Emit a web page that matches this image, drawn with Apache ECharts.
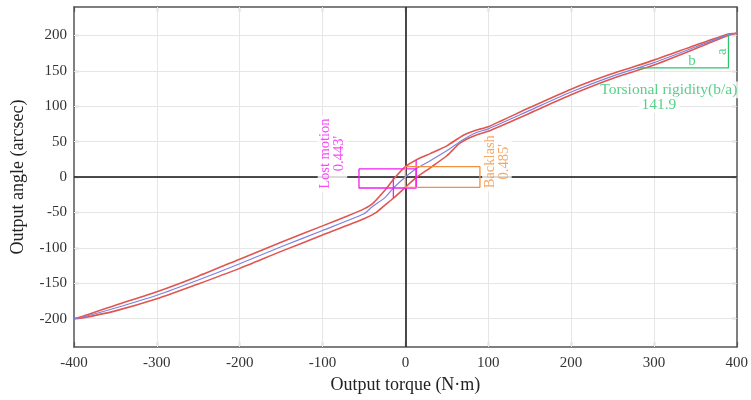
<!DOCTYPE html>
<html>
<head>
<meta charset="utf-8">
<script src="https://cdn.jsdelivr.net/npm/echarts@6/dist/echarts.min.js"></script>
<style>
  html, body { margin: 0; padding: 0; background: #fff; }
  #chart { width: 751px; height: 400px; }
</style>
</head>
<body>
<div id="chart"></div>
<script>
// Tick values
var xTicks = [-400, -300, -200, -100, 0, 100, 200, 300, 400];
var yTicks = [-200, -150, -100, -50, 0, 50, 100, 150, 200];

// Upper branch of the hysteresis loop (unloading)
var upperX = [-400, -390, -350, -300, -250, -200, -150, -100, -70, -50, -40, -25, -13, 0, 13, 30, 50, 70, 85, 100, 150, 200, 250, 300, 350, 390, 400];
var upperY = [-200, -197, -181, -162, -140, -116, -92, -69, -55, -45, -38, -19, -1.5, 14.5, 24, 33, 44, 59, 66, 71, 98, 124, 146, 165, 186, 202, 203];

// Lower branch of the hysteresis loop (loading)
var lowerX = [-400, -390, -350, -300, -250, -200, -150, -100, -50, -35, -25, -14.5, 0, 13, 30, 50, 65, 75, 85, 100, 150, 200, 250, 300, 350, 390, 400];
var lowerY = [-200, -199, -189, -172, -151, -129, -105, -82, -59, -50, -40, -30, -14.5, -1, 13, 30, 47, 54, 59, 64.5, 90, 116, 139, 158, 181, 200, 203];

// Mid-line between the two branches
var midX = [-400, -390, -350, -300, -250, -200, -150, -100, -50, -40, -25, -14.5, 0, 13, 30, 50, 70, 85, 100, 150, 200, 250, 300, 350, 390, 400];
var midY = [-200, -198, -185, -167, -145.5, -122.5, -98.5, -75.5, -52, -42, -29.5, -15.75, 0, 11.5, 23, 37, 53, 62.5, 68, 94, 120, 142.5, 161.5, 183.5, 201, 203];

// Lost motion marks (0.443' = 26.6 arcsec)
var lostBoxX = [-56, 13, 13, -56, -56];
var lostBoxY = [11.5, 11.5, -15.5, -15.5, 11.5];
var lostRightX = [13, 13];
var lostRightY = [24, -15.5];
var lostLeftX = [-14.5, -14.5];
var lostLeftY = [-1.5, -30];

// Backlash box (0.485' = 29.1 arcsec)
var backBoxX = [0, 90, 90, 0, 0];
var backBoxY = [14.55, 14.55, -14.55, -14.55, 14.55];

// Rigidity triangle legs
var rigidX = [280, 390, 390];
var rigidY = [154, 154, 201];

function pairs(xs, ys) {
  return xs.map(function (x, i) { return [x, ys[i]]; });
}

var serif = 'Liberation Serif';
var axisColor = '#555';
var red = '#e0564e';
var blue = '#7c82e2';
var magenta = '#f020f0';
var orange = '#f39140';
var green = '#2fc46c';

var chart = echarts.init(document.getElementById('chart'), null, { renderer: 'canvas' });

function lineSeries(data, color, width, z, smooth) {
  return {
    type: 'line',
    data: data,
    showSymbol: false,
    symbol: 'none',
    smooth: smooth || false,
    silent: true,
    z: z,
    lineStyle: { color: color, width: width },
    animation: false
  };
}

var gridLines = {
  type: 'line',
  data: [],
  silent: true,
  z: 1,
  markLine: {
    z: 1,
    silent: true,
    symbol: 'none',
    label: { show: false },
    animation: false,
    lineStyle: { color: '#e6e6e6', width: 1, type: 'solid' },
    data: xTicks.filter(function (v) { return v > -400 && v < 400; }).map(function (v) { return { xAxis: v }; })
      .concat(yTicks.map(function (v) { return { yAxis: v }; }))
  }
};

var zeroLines = {
  type: 'line',
  data: [],
  silent: true,
  z: 2,
  markLine: {
    z: 2,
    silent: true,
    symbol: 'none',
    label: { show: false },
    animation: false,
    lineStyle: { color: '#111', width: 1.5, type: 'solid' },
    data: [{ xAxis: 0 }, { yAxis: 0 }]
  }
};

function note(x, y, text, color, rotate, size, boxed) {
  return {
    value: [x, y],
    label: {
      show: true,
      position: 'inside',
      formatter: text,
      color: color,
      rotate: rotate,
      fontFamily: serif,
      fontSize: size,
      lineHeight: size * 0.95,
      align: 'center',
      verticalAlign: 'middle',
      backgroundColor: boxed ? '#fff' : 'transparent',
      padding: boxed ? [1, 3] : 0
    }
  };
}

// Text annotations sit above the grid and zero lines but under the curves
var notes = {
  type: 'scatter',
  symbolSize: 0,
  silent: true,
  z: 3,
  animation: false,
  data: [
    note(-88, 33, 'Lost motion\n0.443\'', magenta, 90, 14.5, true),
    note(110.5, 21.5, 'Backlash\n0.485\'', orange, 90, 14.5, true),
    note(318, 123, 'Torsional rigidity(b/a)', green, 0, 15.5, true),
    note(306, 102, '141.9', green, 0, 15.5, true),
    note(346, 163, 'b', green, 0, 15, false),
    note(382, 177, 'a', green, 90, 15, false)
  ]
};

var option = {
  backgroundColor: '#fff',
  animation: false,
  grid: { left: 74, right: 13, top: 7, bottom: 53 },
  xAxis: [{
    type: 'value', min: -400, max: 400, interval: 100, position: 'bottom',
    name: 'Output torque (N\u00b7m)', nameLocation: 'middle', nameGap: 26,
    nameTextStyle: { fontFamily: serif, fontSize: 18, color: '#222' },
    axisLine: { show: true, onZero: false, lineStyle: { color: axisColor, width: 1.5 } },
    axisTick: { show: true, inside: true, length: 5, lineStyle: { color: axisColor, width: 1.2 } },
    axisLabel: { fontFamily: serif, fontSize: 15, color: '#333', margin: 9 },
    splitLine: { show: false }
  }, {
    type: 'value', min: -400, max: 400, interval: 100, position: 'top',
    axisLine: { show: true, onZero: false, lineStyle: { color: axisColor, width: 1.5 } },
    axisTick: { show: true, inside: true, length: 5, lineStyle: { color: axisColor, width: 1.2 } },
    axisLabel: { show: false },
    splitLine: { show: false }
  }],
  yAxis: [{
    type: 'value', min: -240, max: 240, interval: 10, position: 'left',
    name: 'Output angle (arcsec)', nameLocation: 'middle', nameGap: 47,
    nameTextStyle: { fontFamily: serif, fontSize: 18, color: '#222' },
    axisLine: { show: true, onZero: false, lineStyle: { color: axisColor, width: 1.5 } },
    axisTick: { show: true, inside: true, length: 5, customValues: yTicks, lineStyle: { color: axisColor, width: 1.2 } },
    axisLabel: { fontFamily: serif, fontSize: 15, color: '#333', margin: 7, customValues: yTicks },
    splitLine: { show: false }
  }, {
    type: 'value', min: -240, max: 240, interval: 10, position: 'right',
    axisLine: { show: true, onZero: false, lineStyle: { color: axisColor, width: 1.5 } },
    axisTick: { show: true, inside: true, length: 5, customValues: yTicks, lineStyle: { color: axisColor, width: 1.2 } },
    axisLabel: { show: false },
    splitLine: { show: false }
  }],
  series: [
    gridLines,
    zeroLines,
    notes,
    lineSeries(pairs(upperX, upperY), red, 1.6, 4, 0.2),
    lineSeries(pairs(lowerX, lowerY), red, 1.6, 4, 0.2),
    lineSeries(pairs(midX, midY), blue, 1.2, 5, 0.2),
    lineSeries(pairs(lostBoxX, lostBoxY), magenta, 1.3, 6),
    lineSeries(pairs(lostRightX, lostRightY), magenta, 1.3, 6),
    lineSeries(pairs(lostLeftX, lostLeftY), magenta, 1.3, 6),
    lineSeries(pairs(backBoxX, backBoxY), orange, 1.3, 6),
    lineSeries(pairs(rigidX, rigidY), green, 1.3, 6)
  ]
};

chart.setOption(option);
</script>
</body>
</html>
